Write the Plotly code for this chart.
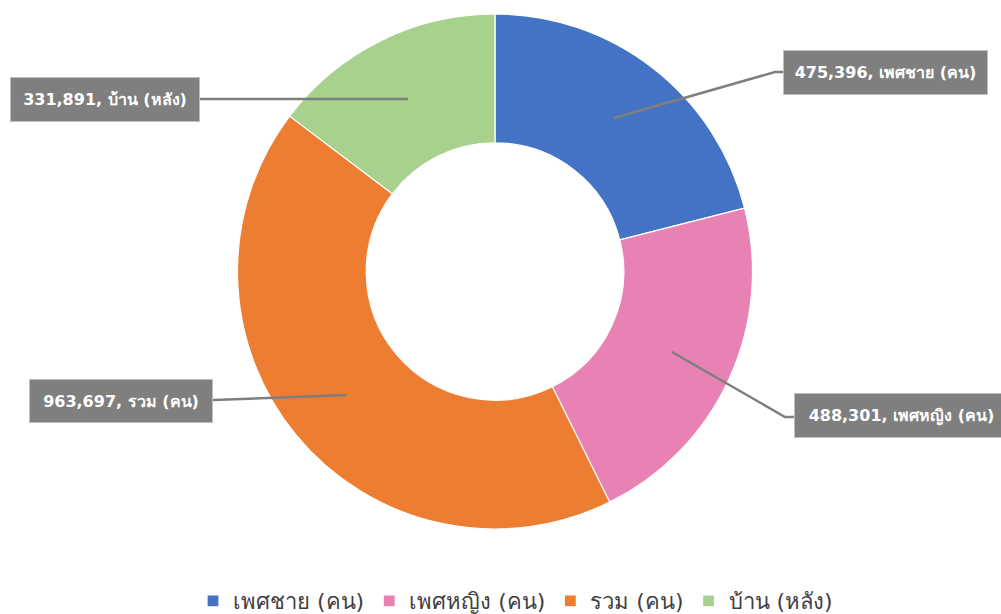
import plotly.graph_objects as go

W, H = 1001, 614

# ข้อมูล
labels = ['เพศชาย (คน)', 'เพศหญิง (คน)', 'รวม (คน)', 'บ้าน (หลัง)']
values = [475396, 488301, 963697, 331891]
colors = ['#4472C4', '#E882B4', '#ED7D31', '#A9D18E']

# กล่องป้าย (px): ซ้าย, บน, กว้าง, สูง
boxes = [(783, 50, 205, 45), (794, 393, 215, 45), (29, 379, 184, 44), (10, 77, 190, 45)]
# เส้นชี้ (px)
leader = [
    [(614, 118), (775, 72), (783, 72)],
    [(672, 352), (785, 417), (794, 417)],
    [(347, 395), (213, 400)],
    [(408, 99), (200, 99)],
]

def px(x, y):
    return x / W, 1 - y / H

fig = go.Figure()

fig.add_trace(go.Pie(
    labels=labels,
    values=values,
    hole=0.5,
    sort=False,
    direction='clockwise',
    rotation=0,
    marker=dict(colors=colors, line=dict(color='white', width=1.2)),
    textinfo='none',
    domain=dict(x=[237 / W, 753 / W], y=[1 - 529 / H, 1 - 14 / H]),
))

annotations = []
shapes = []
for i, (lab, val) in enumerate(zip(labels, values)):
    pts = leader[i]
    path = 'M ' + ' L '.join(f'{px(x, y)[0]},{px(x, y)[1]}' for x, y in pts)
    shapes.append(dict(type='path', path=path, xref='paper', yref='paper',
                       line=dict(color='#7F7F7F', width=2.5)))
    l, t, w, h = boxes[i]
    bx, by = px(l, t)
    annotations.append(dict(
        x=bx, y=by, xref='paper', yref='paper',
        text=f'<b>{val:,}, {lab}</b>',
        showarrow=False,
        font=dict(family='Tahoma, DejaVu Sans, sans-serif', size=16, color='white'),
        bgcolor='#7F7F7F',
        bordercolor='#BFBFBF',
        borderwidth=1,
        borderpad=0,
        width=w - 2, height=h - 2,
        align='center', valign='middle',
        xanchor='left', yanchor='top',
    ))

fig.update_layout(
    width=W, height=H,
    margin=dict(l=0, r=0, t=0, b=0, autoexpand=False),
    paper_bgcolor='white',
    plot_bgcolor='white',
    shapes=shapes,
    annotations=annotations,
    showlegend=True,
    legend=dict(
        orientation='h',
        x=0.515, xanchor='center',
        y=1 - 601 / H, yanchor='middle',
        font=dict(family='Tahoma, DejaVu Sans, sans-serif', size=22, color='#404040'),
        itemwidth=30,
        traceorder='normal',
    ),
)

fig.write_html('out.html', config={'displayModeBar': False},
               post_script="document.body.style.margin='0';document.body.style.overflow='hidden';")
